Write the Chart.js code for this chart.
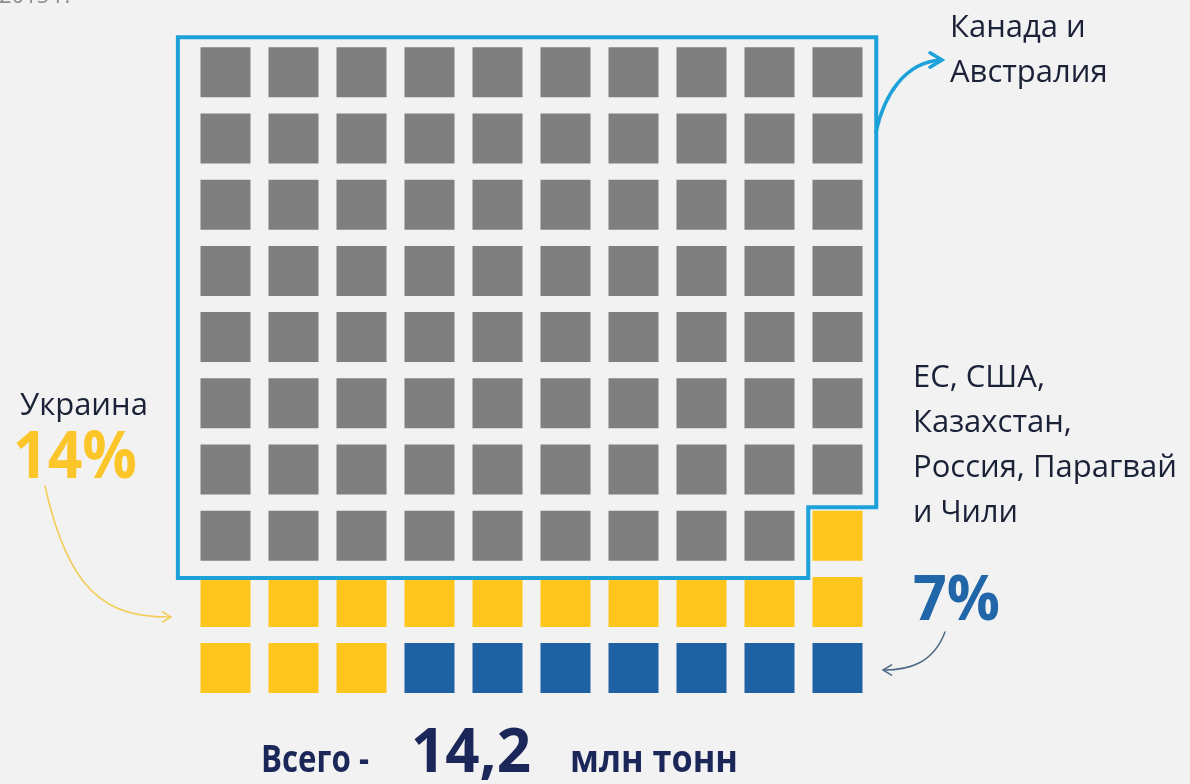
<!DOCTYPE html>
<html lang="ru">
<head>
    <meta charset="UTF-8">
    <title>Всего - 14,2 млн тонн</title>
    <script src="https://cdn.jsdelivr.net/npm/chart.js"></script>
    <style>
        body {
            margin: 0;
            padding: 0;
            background-color: #F2F2F2;
        }
        .wrap {
            position: relative;
            width: 1190px;
            height: 784px;
        }
    </style>
</head>
<body>
    <div class="wrap">
        <canvas id="waffle"></canvas>
    </div>

    <script>
        // Data: share of 100 squares (%)
        const categories = ['Канада и Австралия', 'Украина', 'ЕС, США, Казахстан, Россия, Парагвай и Чили'];
        const shares = [79, 14, 7];
        const colors = ['#7F7F7F', '#FEC51D', '#1F62A3'];
        const gridCols = 10;
        const totalLabel = '14,2';

        // cells are filled row by row from the top-left corner
        let cellIndex = 0;
        const datasets = categories.map((name, k) => {
            const points = [];
            for (let n = 0; n < shares[k]; n++) {
                points.push({ x: cellIndex % gridCols, y: Math.floor(cellIndex / gridCols) });
                cellIndex++;
            }
            return {
                label: name,
                data: points,
                pointStyle: 'rect',
                pointRadius: 50 / (2 * Math.SQRT1_2),
                pointHoverRadius: 50 / (2 * Math.SQRT1_2),
                backgroundColor: colors[k],
                borderWidth: 0
            };
        });

        // outline around the grey block, in grid units
        const outline = [[-0.70, -0.53], [9.57, -0.53], [9.57, 6.57], [8.57, 6.57], [8.57, 7.64], [-0.70, 7.64]];

        function arrowHead(ctx, x, y, angle, len) {
            ctx.beginPath();
            ctx.moveTo(x + len * Math.cos(angle + 2.6), y + len * Math.sin(angle + 2.6));
            ctx.lineTo(x, y);
            ctx.lineTo(x + len * Math.cos(angle - 2.6), y + len * Math.sin(angle - 2.6));
            ctx.stroke();
        }

        function text(ctx, str, x, y, font, color, maxW) {
            ctx.font = font;
            ctx.fillStyle = color;
            ctx.fillText(str, x, y, maxW);
        }

        const decorations = {
            id: 'decorations',
            afterDatasetsDraw(chart) {
                const ctx = chart.ctx;
                const xs = chart.scales.x, ys = chart.scales.y;
                ctx.save();

                // blue outline
                ctx.strokeStyle = '#1CA1D9';
                ctx.lineWidth = 4;
                ctx.lineJoin = 'miter';
                ctx.beginPath();
                outline.forEach((p, i) => {
                    const px = xs.getPixelForValue(p[0]), py = ys.getPixelForValue(p[1]);
                    if (i === 0) ctx.moveTo(px, py); else ctx.lineTo(px, py);
                });
                ctx.closePath();
                ctx.stroke();

                // arrow to "Канада и Австралия"
                ctx.lineWidth = 3.5;
                ctx.lineCap = 'round';
                ctx.beginPath();
                ctx.moveTo(876, 132);
                ctx.bezierCurveTo(884, 95, 905, 62, 941, 60);
                ctx.stroke();
                arrowHead(ctx, 942, 60, 0, 14);

                // yellow arrow from 14%
                ctx.strokeStyle = '#F3CB55';
                ctx.lineWidth = 1.5;
                ctx.beginPath();
                ctx.moveTo(45, 486);
                ctx.bezierCurveTo(68, 590, 105, 618, 170, 617);
                ctx.stroke();
                arrowHead(ctx, 171, 617, 0, 10);

                // arrow from 7%
                ctx.strokeStyle = '#4D6985';
                ctx.lineWidth = 1.5;
                ctx.beginPath();
                ctx.moveTo(945, 632);
                ctx.bezierCurveTo(933, 664, 908, 670, 884, 670);
                ctx.stroke();
                arrowHead(ctx, 883, 670, Math.PI, 10);

                // texts
                ctx.textAlign = 'left';
                ctx.textBaseline = 'alphabetic';
                const dark = '#1B2238';
                text(ctx, '2015 г.', -1, 3, '22px "Open Sans"', '#8C8C8C', 86);

                text(ctx, 'Канада и', 950, 37, '31px "Open Sans"', dark, 142);
                text(ctx, 'Австралия', 950, 82, '31px "Open Sans"', dark, 163);

                text(ctx, 'ЕС, США,', 913, 387, '31px "Open Sans"', dark, 134);
                text(ctx, 'Казахстан,', 913, 432, '31px "Open Sans"', dark, 162);
                text(ctx, 'Россия, Парагвай', 913, 477, '31px "Open Sans"', dark, 270);
                text(ctx, 'и Чили', 913, 522, '31px "Open Sans"', dark, 105);
                text(ctx, shares[2] + '%', 913, 620, 'bold 63px "Open Sans"', '#2166A8', 87);

                text(ctx, 'Украина', 20, 415, '31px "Open Sans"', dark, 130);
                text(ctx, shares[1] + '%', 13, 478, 'bold 67px "Open Sans"', '#FCC52A', 124);

                const navy = '#1C2759';
                text(ctx, 'Всего -', 261, 772, 'bold 37px "Open Sans"', navy, 108);
                text(ctx, totalLabel, 411, 772, 'bold 60px "Open Sans"', navy, 126);
                text(ctx, 'млн тонн', 570, 772, 'bold 37px "Open Sans"', navy, 168);

                ctx.restore();
            }
        };

        new Chart(document.getElementById('waffle'), {
            type: 'scatter',
            data: { datasets: datasets },
            options: {
                responsive: true,
                maintainAspectRatio: false,
                animation: false,
                events: [],
                layout: { padding: { left: 191.5, right: 318.5, top: 39.2, bottom: 82.8 } },
                plugins: {
                    legend: { display: false },
                    tooltip: { enabled: false }
                },
                scales: {
                    x: { display: false, min: -0.5, max: 9.5 },
                    y: { display: false, min: -0.5, max: 9.5, reverse: true }
                }
            },
            plugins: [decorations]
        });
    </script>
</body>
</html>
